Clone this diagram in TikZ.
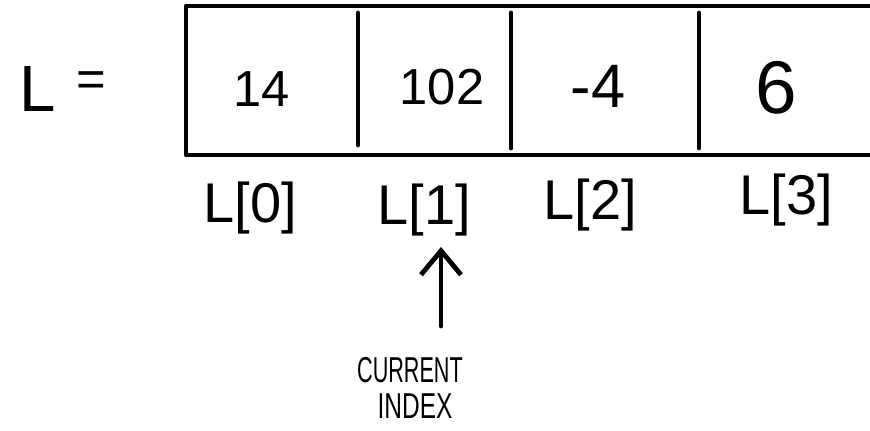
\documentclass[tikz,border=0pt]{standalone}
\usepackage{fontspec}
\usepackage{graphicx}
\setmainfont{Liberation Sans}
\usetikzlibrary{arrows.meta}
\begin{document}
\begin{tikzpicture}[x=0.75pt,y=-0.75pt,
  ink/.style={line width=3.6pt,line cap=round,line join=round,black},
  val/.style={inner sep=0pt,font=\fontsize{38}{38}\selectfont},
  lbl/.style={inner sep=0pt,font=\fontsize{42}{42}\selectfont},
  note/.style={inner sep=0pt,font=\fontsize{27}{29}\selectfont}]
\useasboundingbox (0,0) rectangle (870,431);
\clip (0,0) rectangle (870,431);
% array box
\draw[ink] (875,6) -- (186,6) -- (186,155) -- (875,155);
\draw[ink] (358,13) -- (358,145);
\draw[ink] (511,13) -- (511,148);
\draw[ink] (699,13) -- (699,148);
% name
\node[inner sep=0pt,font=\fontsize{49}{49}\selectfont] (Lname) at (38,89) {L};
\node[inner sep=0pt,font=\fontsize{38}{38}\selectfont] (eq) at (91,84) {=};
% values
\node[val] (v0) at (262,89) {14};
\node[val] (v1) at (442,87) {102};
\node[val,font=\fontsize{46}{46}\selectfont] (v2) at (598,86) {-4};
\node[val,font=\fontsize{56}{56}\selectfont] (v3) at (776,88) {6};
% index labels
\node[lbl] (l0) at (250,208) {L[0]};
\node[lbl] (l1) at (424,210) {L[1]};
\node[lbl] (l2) at (590,205) {L[2]};
\node[lbl] (l3) at (786,200) {L[3]};
% current index
\node[note] (cur) at (410,370) {\scalebox{0.6}[1]{CURRENT}};
\node[note] (idx) at (415,406) {\scalebox{0.68}[1]{INDEX}};
\coordinate (astart) at (441,326);
\draw[ink,-{Straight Barb[length=18pt,width=30pt,line width=3.6pt]}] (astart) -- (441,247);
\end{tikzpicture}
\end{document}
